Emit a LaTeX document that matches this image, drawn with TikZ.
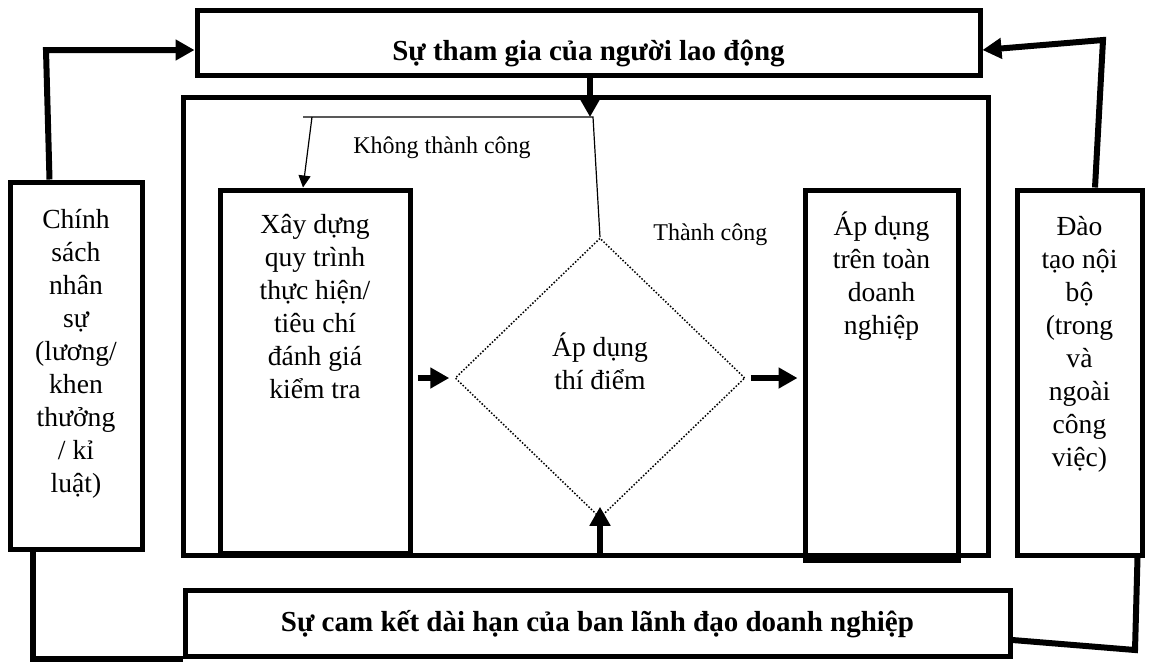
\documentclass[tikz,border=0pt]{standalone}
\usepackage{fontspec}
\setmainfont{Liberation Serif}
\usepackage{tikz}
\usetikzlibrary{arrows.meta,shapes.geometric,positioning}
\newcommand{\bodyfont}{\fontsize{13.8}{16.5}\selectfont}
\newcommand{\titlefont}{\fontsize{14.5}{17}\selectfont\bfseries}
\newcommand{\notefont}{\fontsize{12}{14}\selectfont}
\newcommand{\boxlines}[4]{\parbox[c][#1][t]{#2}{\centering\rule{0pt}{#3}#4}}
\tikzstyle{box}=[draw,line width=2.5pt,inner sep=0pt,font=\bodyfont]
\tikzstyle{banner}=[draw,line width=2.5pt,inner sep=0pt,font=\titlefont]
\tikzstyle{pilot}=[draw,diamond,line width=0.75pt,dash pattern=on 0.75pt off 0.9pt,inner sep=0pt,minimum width=145pt,minimum height=140pt]
\tikzstyle{link}=[line width=3pt]
\tikzstyle{head}=[-{Triangle[length=9.5pt,width=10pt]}]
\tikzstyle{thinline}=[line width=0.6pt]
\tikzstyle{shortflow}=[link,head,shorten <=2.5pt,shorten >=2.5pt]

\begin{document}
\begin{tikzpicture}[
  x=0.5pt, y=-0.5pt,
  note/.style={font=\notefont,inner sep=0pt,anchor=base west},
  body/.style={font=\bodyfont,align=center,inner sep=0pt},
]
\useasboundingbox (0,0) rectangle (1150,661);

\node [banner, minimum width=391.5pt, minimum height=32.5pt, text height=20pt, text depth=2.5pt] (staff) at (588.5,42.5) {Sự tham gia của người lao động};
\node [banner, minimum width=412.5pt, minimum height=33pt, text height=11pt, text depth=3pt] (board) at (597.5,623) {Sự cam kết dài hạn của ban lãnh đạo doanh nghiệp};
\node [draw, line width=2.5pt, minimum width=402.5pt, minimum height=229pt] (frame) at (585.5,326) {};

\node [box] (pol) at (76,365.5) {\boxlines{183.5pt}{66pt}{23pt}{Chính\\sách\\nhân\\sự\\(lương/\\khen\\thưởng\\/ kỉ\\luật)}};
\node [box] (train) at (1079.5,372.5) {\boxlines{182.5pt}{62.5pt}{22.5pt}{Đào\\tạo nội\\bộ\\(trong\\và\\ngoài\\công\\việc)}};
\node [box] (build) at (315,371.5) {\boxlines{181.5pt}{95pt}{21.5pt}{Xây dựng\\quy trình\\thực hiện/\\tiêu chí\\đánh giá\\kiểm tra}};
\node [box] (apply) at (881.5,375) {\boxlines{185pt}{76.5pt}{22.5pt}{Áp dụng\\trên toàn\\doanh\\nghiệp}};

\node [pilot] (dia) at (600,378) {};
\node [body] (diatext) at ([yshift=8.5pt]dia.center) {Áp dụng\\thí điểm};

\node [note] (failtxt) at (353,153) {Không thành công};
\node [note] (oktxt) at (653,240) {Thành công};

\coordinate (split) at (590,117);
\coordinate (failend) at (303,117);
\coordinate (polbend) at (46,50);
\coordinate (trainbend) at (1103,40);
\coordinate (trainfoot) at (1135,650);

\draw [link, head] ([xshift=21pt]pol.north west) -- (polbend) -- (staff.west |- polbend);
\draw [link, head] ([xshift=7.75pt]train.north) -- (trainbend) -- ([yshift=-3.75pt]staff.east);
\draw [link] ([xshift=12.5pt]pol.south west) |- (board.south west);
\draw [link] ([xshift=-3.5pt]train.south east) -- (trainfoot) -- ([yshift=-8.5pt]board.east);

\draw [link, head] (staff.south -| split) -- (split);
\draw [thinline] (failend) -- ([xshift=1.5pt]split) -- (dia.north);
\draw [thinline, -{Triangle[length=6pt,width=6pt]}] ([xshift=4.5pt]failend) -- (build.north -| failend);

\draw [shortflow] (build.east |- dia.west) -- (dia.west);
\draw [shortflow] (dia.east) -- (apply.west |- dia.east);
\draw [link, head] (frame.south -| dia.south) -- ([yshift=6pt]dia.south);

\end{tikzpicture}
\end{document}
